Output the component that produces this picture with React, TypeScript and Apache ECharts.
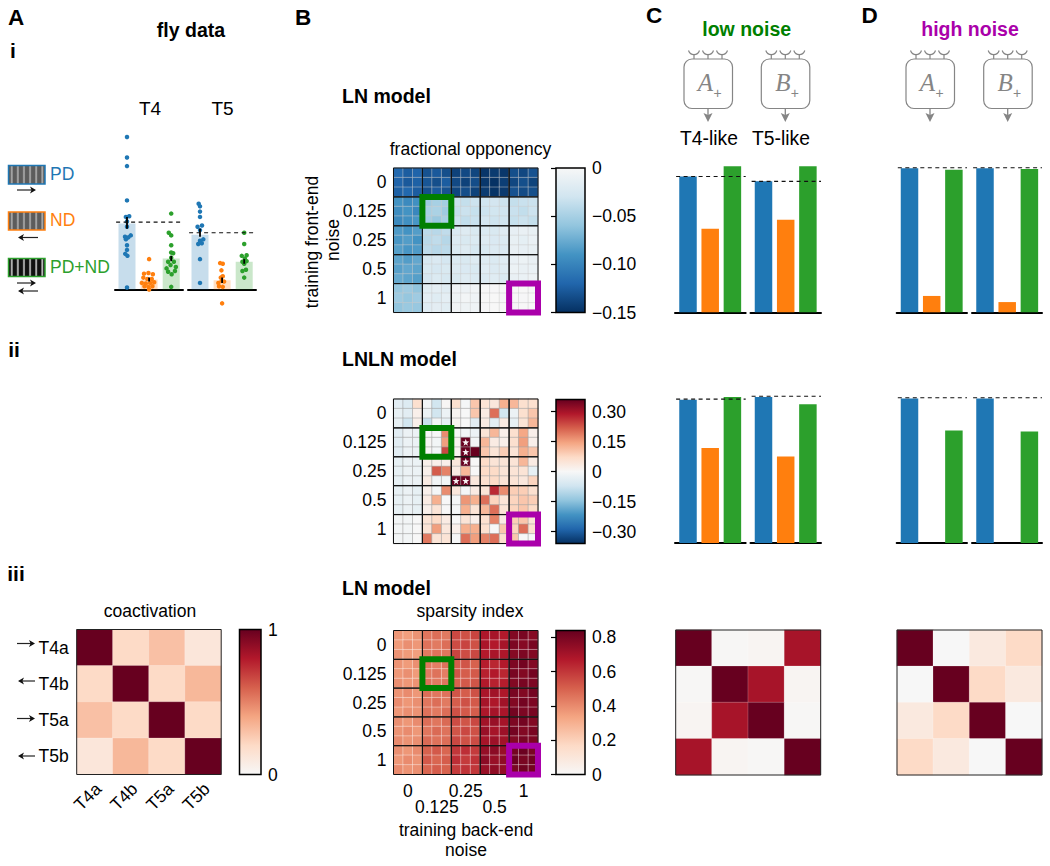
import React, { useEffect, useRef } from "react";
import * as echarts from "echarts";

const FONT = '"Liberation Sans"';
const BLUE = "#1f77b4";
const ORANGE = "#ff7f0e";
const GREEN = "#2ca02c";
const MAG = "#aa00aa";
const DGREEN = "#007f00";
const REDS = ["#f7f7f7", "#fddbc7", "#f4a582", "#d6604d", "#b2182b", "#67001f"];
const BLUES = ["#053061", "#2166ac", "#4393c3", "#92c5de", "#d1e5f0", "#f7f7f7"];
const RDBU = ["#053061", "#2166ac", "#4393c3", "#92c5de", "#d1e5f0", "#f7f7f7", "#fddbc7", "#f4a582", "#d6604d", "#b2182b", "#67001f"];
const LABEL = 17.5;

// ---------- panel A i: fly data ----------
const T4_BARS = [1.0, 0.15, 0.47];
const T5_BARS = [0.83, 0.14, 0.42];
const T4_DASH = 1.02;
const T5_DASH = 0.86;
// [x offset from bar centre, value]
const T4_PD = [[0, 2.31], [0, 2.0], [0, 1.87], [0, 1.35], [0.1, 1.11], [-0.05, 1.1], [0, 1.03], [0, 0.95], [0.17, 0.82], [-0.09, 0.8], [0.06, 0.79], [-0.05, 0.76], [0, 0.67], [0, 0.6], [-0.08, 0.54], [0.02, 0.51], [0, 0.03]];
const T4_ND = [[0, 0.46], [-0.23, 0.24], [-0.03, 0.25], [0.17, 0.23], [-0.26, 0.18], [-0.08, 0.16], [0.12, 0.16], [-0.33, 0.1], [-0.15, 0.09], [0.05, 0.1], [0.23, 0.11], [-0.21, 0.05], [-0.03, 0.04], [0.15, 0.05], [0, 0]];
const T4_BOTH = [[0, 1.15], [-0.11, 0.86], [0, 0.82], [0, 0.67], [0, 0.56], [0.09, 0.55], [0, 0.48], [-0.14, 0.42], [0.12, 0.42], [-0.03, 0.37], [-0.21, 0.32], [0.21, 0.34], [-0.14, 0.27], [0.02, 0.23], [0.17, 0.28], [0, 0.04]];
const T5_PD = [[-0.06, 1.3], [0, 1.26], [0, 1.18], [0, 1.1], [0.09, 0.97], [-0.11, 0.95], [0, 0.9], [0.15, 0.76], [0, 0.74], [-0.08, 0.69], [0.08, 0.7], [0, 0.46], [0, 0.1]];
const T5_ND = [[-0.09, 0.4], [0.03, 0.39], [-0.03, 0.29], [-0.06, 0.18], [0.03, 0.2], [-0.17, 0.1], [-0.02, 0.13], [0.09, 0.12], [-0.14, 0.05], [0.03, 0.04], [0, -0.21]];
const T5_BOTH = [[0, 0.86], [0, 0.69], [-0.11, 0.51], [0.11, 0.52], [0.03, 0.47], [-0.08, 0.42], [0.11, 0.43], [0, 0.39], [0.08, 0.3], [-0.08, 0.28], [0, 0.18]];
// [bar, low, high]
const T4_ERR = [[0, 0.92, 1.1], [1, 0.12, 0.18], [2, 0.43, 0.51]];
const T5_ERR = [[0, 0.8, 0.92], [1, 0.1, 0.18], [2, 0.39, 0.46]];

// ---------- panels C, D: model bars ----------
const LOW_ROW1_A = [0.93, 0.573, 1.0];
const LOW_ROW1_B = [0.897, 0.634, 1.0];
const HIGH_ROW1_A = [0.986, 0.112, 0.977];
const HIGH_ROW1_B = [0.986, 0.07, 0.981];
const LOW_ROW2_A = [0.981, 0.65, 1.0];
const LOW_ROW2_B = [1.0, 0.593, 0.95];
const HIGH_ROW2_A = [0.99, 0, 0.77];
const HIGH_ROW2_B = [0.99, 0, 0.764];

// ---------- heat maps ----------
const NOISE_TICKS = ["", "0", "", "", "0.125", "", "", "0.25", "", "", "0.5", "", "", "1", ""];
const CELLS = ["T4a", "T4b", "T5a", "T5b"];

const FRACTIONAL = [
  [-.118, -.125, -.121, -.131, -.127, -.133, -.14, -.136, -.138, -.147, -.144, -.146, -.133, -.137, -.131],
  [-.121, -.127, -.123, -.129, -.133, -.125, -.136, -.14, -.134, -.146, -.149, -.142, -.137, -.133, -.139],
  [-.123, -.119, -.125, -.133, -.127, -.131, -.138, -.134, -.14, -.144, -.148, -.145, -.131, -.135, -.133],
  [-.09, -.096, -.092, -.054, -.05, -.052, -.034, -.036, -.032, -.03, -.028, -.032, -.036, -.034, -.033],
  [-.094, -.09, -.098, -.05, -.048, -.054, -.036, -.033, -.035, -.032, -.029, -.03, -.034, -.037, -.032],
  [-.096, -.092, -.088, -.052, -.056, -.05, -.032, -.037, -.034, -.028, -.031, -.03, -.035, -.033, -.036],
  [-.086, -.09, -.084, -.04, -.042, -.038, -.023, -.02, -.024, -.022, -.024, -.02, -.013, -.011, -.012],
  [-.088, -.084, -.09, -.041, -.038, -.043, -.021, -.024, -.022, -.02, -.023, -.022, -.012, -.014, -.01],
  [-.083, -.088, -.086, -.039, -.042, -.04, -.022, -.02, -.025, -.024, -.021, -.023, -.011, -.013, -.012],
  [-.08, -.084, -.078, -.025, -.023, -.027, -.022, -.024, -.02, -.02, -.022, -.019, -.01, -.009, -.011],
  [-.082, -.078, -.08, -.024, -.026, -.024, -.021, -.023, -.024, -.018, -.021, -.02, -.009, -.011, -.01],
  [-.077, -.08, -.083, -.026, -.022, -.025, -.024, -.02, -.022, -.021, -.019, -.022, -.011, -.01, -.008],
  [-.058, -.055, -.06, -.017, -.015, -.018, -.006, -.008, -.005, 0, -.001, 0, 0, 0, -.001],
  [-.055, -.058, -.054, -.016, -.019, -.015, -.007, -.004, -.006, 0, 0, -.001, 0, -.001, 0],
  [-.06, -.056, -.057, -.018, -.016, -.017, -.005, -.007, -.006, -.001, 0, 0, -.001, 0, 0],
];

const LNLN = [
  [-.04, -.05, .06, -.01, -.07, .005, .06, -.005, .1, .05, .04, .13, .12, .06, .06],
  [-.03, -.04, .02, -.02, -.07, -.02, .01, 0, .1, .03, .2, -.07, -.02, .06, .1],
  [-.03, -.07, .02, -.08, -.01, -.03, .01, 0, -.04, .03, -.04, .03, -.03, .05, .12],
  [-.04, -.02, -.02, 0, 0, .17, 0, -.01, -.02, .05, .12, .02, .06, .14, .02],
  [-.04, -.02, -.02, .005, -.01, .15, .01, .36, -.01, .12, .03, .02, .06, .15, .02],
  [-.04, -.02, -.02, .005, -.01, .24, .01, .36, .36, .1, .05, .09, .05, .13, .1],
  [-.03, -.02, -.02, .02, .02, .02, .04, .36, 0, .07, .05, .05, .05, .12, .03],
  [-.03, -.02, -.02, .02, .22, .18, .03, .12, 0, .07, .07, .05, .05, .05, -.03],
  [-.03, -.02, -.02, .03, -.01, -.01, .36, .36, .04, .06, .07, .05, .05, .04, .08],
  [-.03, -.02, -.03, .02, -.005, .17, .04, -.005, .03, .05, .27, .17, .09, .09, .06],
  [-.03, -.02, -.03, .03, .13, 0, -.005, .16, .13, .2, .08, .05, .08, .1, .09],
  [-.03, -.02, -.03, .02, .05, 0, -.005, .13, .05, .12, .2, .05, .08, .1, .07],
  [-.01, -.01, 0, .05, .07, .03, 0, .05, .02, .06, .18, .03, .09, .1, .05],
  [-.01, -.01, 0, .05, .15, .04, .02, .13, .13, .06, 0, .1, .08, .2, .06],
  [-.01, -.01, 0, .19, .05, .05, -.003, .2, .15, .18, .2, .06, .1, 0, 0],
];
// [column, row] of the starred cells
const LNLN_STARS = [[7, 4], [7, 5], [7, 6], [6, 8], [7, 8]];

const SPARSITY = [
  [.37, .35, .38, .45, .47, .44, .56, .54, .57, .68, .7, .67, .78, .8, .77],
  [.36, .39, .37, .46, .44, .47, .55, .57, .54, .69, .67, .7, .79, .77, .8],
  [.38, .36, .35, .44, .46, .45, .57, .55, .56, .67, .69, .68, .77, .79, .78],
  [.38, .36, .39, .45, .43, .46, .51, .53, .5, .66, .64, .67, .79, .81, .78],
  [.37, .39, .36, .44, .46, .43, .53, .51, .52, .65, .67, .64, .8, .78, .81],
  [.39, .37, .38, .46, .44, .45, .5, .52, .53, .67, .65, .66, .78, .8, .79],
  [.38, .4, .37, .47, .45, .46, .53, .51, .54, .69, .71, .68, .8, .78, .81],
  [.4, .37, .39, .45, .47, .44, .51, .54, .52, .7, .68, .71, .78, .81, .79],
  [.37, .39, .38, .46, .44, .47, .54, .52, .51, .68, .7, .69, .81, .79, .8],
  [.39, .37, .4, .47, .45, .48, .55, .53, .56, .71, .73, .7, .79, .81, .78],
  [.38, .4, .37, .45, .48, .46, .53, .56, .54, .73, .7, .72, .81, .78, .8],
  [.4, .38, .39, .48, .46, .47, .56, .54, .55, .7, .72, .71, .78, .8, .79],
  [.39, .37, .4, .5, .52, .49, .6, .62, .59, .74, .76, .73, .81, .83, .8],
  [.37, .4, .38, .52, .49, .51, .62, .59, .61, .76, .73, .75, .83, .8, .82],
  [.4, .38, .39, .49, .51, .5, .59, .61, .6, .73, .75, .74, .8, .82, .81],
];

const COACT = [
  [1, .2, .3, .12],
  [.2, 1, .2, .33],
  [.3, .2, 1, .2],
  [.12, .33, .2, 1],
];
const LOW_NOISE_COACT = [
  [1, .01, .02, .83],
  [.01, 1, .83, .02],
  [.02, .83, 1, .01],
  [.83, .02, .01, 1],
];
const HIGH_NOISE_COACT = [
  [1, 0, .1, .2],
  [0, 1, .2, .1],
  [.1, .2, 1, 0],
  [.2, .1, 0, 1],
];

const FRAC_TICKS = [0, -0.05, -0.1, -0.15];
const LNLN_TICKS = [0.3, 0.15, 0, -0.15, -0.3];
const SPARSE_TICKS = [0, 0.2, 0.4, 0.6, 0.8];
const COACT_TICKS = [0, 1];

const BLOCKS = [0, 1, 2, 3, 4].flatMap((r) => [0, 1, 2, 3, 4].map((c) => [c, r]));

function buildOption() {
  const grid: any[] = [], xAxis: any[] = [], yAxis: any[] = [], series: any[] = [], visualMap: any[] = [];
  const addGrid = (g: any, x: any, y: any) => {
    const i = grid.length;
    grid.push(g);
    xAxis.push({ ...x, gridIndex: i });
    yAxis.push({ ...y, gridIndex: i });
    return i;
  };
  const hiddenValue = (min: number, max: number) => ({
    type: "value", min, max, show: false, splitLine: { show: false },
  });

  // bars with a thick zero line
  const barPanel = (left: number, right: number, c0: number, base: number, unit: number, top: number, bottom: number, vals: number[], opts: any) => {
    const sp = opts.spacing;
    const xmin = (left - c0) / sp, xmax = (right - c0) / sp;
    const i = addGrid(
      { left, width: right - left, top: base - top * unit, height: (top - bottom) * unit },
      {
        type: "value", min: xmin, max: xmax,
        axisLine: { show: true, onZero: true, lineStyle: { color: "#000", width: 2 } },
        axisTick: { show: false }, axisLabel: { show: false }, splitLine: { show: false },
      },
      hiddenValue(bottom, top)
    );
    const cols = [BLUE, ORANGE, GREEN];
    series.push({
      type: "bar", xAxisIndex: i, yAxisIndex: i, barWidth: opts.barWidth, silent: true,
      data: vals.map((v, k) => ({ value: [k, v], itemStyle: { color: cols[k], opacity: opts.opacity ?? 1 } })),
      z: 2,
    });
    if (opts.dots) {
      opts.dots.forEach((d: number[][], k: number) => {
        series.push({
          type: "scatter", xAxisIndex: i, yAxisIndex: i, symbolSize: 4.5, silent: true, z: 3,
          itemStyle: { color: cols[k], opacity: 1 },
          data: d.map(([o, v]) => [k + o, v]),
        });
      });
    }
    if (opts.err) {
      series.push({
        type: "custom", xAxisIndex: i, yAxisIndex: i, silent: true, z: 4, data: opts.err,
        renderItem: (_: any, api: any) => {
          const a = api.coord([api.value(0), api.value(1)]);
          const b = api.coord([api.value(0), api.value(2)]);
          return { type: "line", shape: { x1: a[0], y1: a[1], x2: b[0], y2: b[1] }, style: { stroke: "#000", lineWidth: 1.8 } };
        },
      });
    }
    if (opts.dash != null) {
      series.push({
        type: "line", xAxisIndex: i, yAxisIndex: i, silent: true, z: 5, symbol: "none", clip: false,
        lineStyle: { color: "#111", width: 1.2, type: [4, 3.5] },
        data: [[xmin + (opts.dashInset ?? 0.05), opts.dash], [xmax, opts.dash]],
      });
    }
  };

  const A_UNIT = 66, A_BASE = 289.5;
  const aOpts = { spacing: 22.1, barWidth: 17, opacity: 0.25 };
  barPanel(115, 183, 127, A_BASE, A_UNIT, 2.5, -0.3, T4_BARS, { ...aOpts, dots: [T4_PD, T4_ND, T4_BOTH], err: T4_ERR, dash: T4_DASH });
  barPanel(188, 256, 200, A_BASE, A_UNIT, 2.5, -0.3, T5_BARS, { ...aOpts, dots: [T5_PD, T5_ND, T5_BOTH], err: T5_ERR, dash: T5_DASH });

  const mOpts = { spacing: 22.2, barWidth: 17.5 };
  const mU = 146;
  const mT = 1.03, mB = -0.02;
  barPanel(675, 745.7, 688, 312.3, mU, mT, mB, LOW_ROW1_A, { ...mOpts, dash: 0.93 });
  barPanel(750.5, 821, 763.5, 312.3, mU, mT, mB, LOW_ROW1_B, { ...mOpts, dash: 0.897 });
  barPanel(896.7, 967, 909.5, 312.3, mU, mT, mB, HIGH_ROW1_A, { ...mOpts, dash: 0.99 });
  barPanel(972, 1042, 985, 312.3, mU, mT, mB, HIGH_ROW1_B, { ...mOpts, dash: 0.99 });
  barPanel(675, 745.7, 688, 543, mU, mT, mB, LOW_ROW2_A, { ...mOpts, dash: 0.985 });
  barPanel(750.5, 821, 763.5, 543, mU, mT, mB, LOW_ROW2_B, { ...mOpts, dash: 1.005 });
  barPanel(896.7, 967, 909.5, 543, mU, mT, mB, HIGH_ROW2_A, { ...mOpts, dash: 0.995 });
  barPanel(972, 1042, 985, 543, mU, mT, mB, HIGH_ROW2_B, { ...mOpts, dash: 0.995 });

  // heat maps
  const frameSeries = (i: number, data: number[][], n: number, stroke: string, lineWidth: number, z: number) => {
    series.push({
      type: "custom", xAxisIndex: i, yAxisIndex: i, silent: true, z, data, clip: false,
      renderItem: (_: any, api: any) => {
        const c0 = api.coord([api.value(0) * n, api.value(1) * n]);
        const c1 = api.coord([api.value(0) * n + n - 1, api.value(1) * n + n - 1]);
        const s = api.size([1, 1]);
        const w = s[0] * n, h = s[1] * n;
        const cx = (c0[0] + c1[0]) / 2, cy = (c0[1] + c1[1]) / 2;
        return {
          type: "rect", shape: { x: cx - w / 2, y: cy - h / 2, width: w, height: h },
          style: { fill: "none", stroke, lineWidth },
        };
      },
    });
  };

  const heat = (box: number[], matrix: number[][], min: number, max: number, colors: string[], x: any, y: any, border: any) => {
    const i = addGrid(
      { left: box[0], top: box[1], width: box[2], height: box[3] },
      { type: "category", axisLine: { show: false }, axisTick: { show: false }, splitLine: { show: false }, ...x },
      { type: "category", inverse: true, axisLine: { show: false }, axisTick: { show: false }, splitLine: { show: false }, ...y }
    );
    series.push({
      type: "heatmap", xAxisIndex: i, yAxisIndex: i, silent: true, z: 2,
      itemStyle: border,
      data: matrix.flatMap((row, r) => row.map((v, c) => [c, r, v])),
    });
    visualMap.push({ type: "continuous", show: false, min, max, dimension: 2, seriesIndex: series.length - 1, inRange: { color: colors } });
    return i;
  };

  const colorbar = (box: number[], min: number, max: number, colors: string[], ticks: number[], fmt: (v: number) => string, tickLen: number) => {
    const i = addGrid(
      { left: box[0], top: box[1], width: box[2], height: box[3] },
      { type: "value", min: 0, max: 1, show: false, splitLine: { show: false } },
      {
        type: "value", position: "right", min, max, splitLine: { show: false },
        axisLine: { show: false },
        axisTick: { show: tickLen > 0, inside: true, length: tickLen, customValues: ticks, lineStyle: { color: "#000", width: 1.2 } },
        axisLabel: { show: true, customValues: ticks, formatter: fmt, fontFamily: FONT, fontSize: LABEL, color: "#000", margin: 7 },
      }
    );
    series.push({
      type: "custom", xAxisIndex: i, yAxisIndex: i, silent: true, z: 2, data: [[0, min, max]],
      renderItem: (params: any) => {
        const r = params.coordSys;
        return {
          type: "rect", shape: { x: r.x, y: r.y, width: r.width, height: r.height },
          style: {
            stroke: "#000", lineWidth: 1.5,
            fill: new echarts.graphic.LinearGradient(0, 1, 0, 0, colors.map((color, k) => ({ offset: k / (colors.length - 1), color }))),
          },
        };
      },
    });
  };

  const noCell = { borderColor: "rgba(205,205,205,0.6)", borderWidth: 0.8 };
  const yNoise = {
    data: NOISE_TICKS,
    axisLabel: { interval: 0, fontFamily: FONT, fontSize: LABEL, color: "#000", margin: 7, padding: [4, 0, 0, 0] },
  };
  const noLabels = { axisLabel: { show: false } };
  const blockFrames = (i: number) => {
    frameSeries(i, BLOCKS, 3, "#111", 1, 5);
    frameSeries(i, [[1, 1]], 3, DGREEN, 6, 6);
    frameSeries(i, [[4, 4]], 3, MAG, 6, 6);
  };

  const fi = heat([393.5, 168, 144.5, 144.5], FRACTIONAL, -0.15, 0, BLUES, { data: NOISE_TICKS, ...noLabels }, yNoise, noCell);
  blockFrames(fi);
  colorbar([556, 168, 29, 144.5], -0.15, 0, BLUES, FRAC_TICKS, (v) => (v === 0 ? "0" : "\u2212" + Math.abs(v).toFixed(2)), 5);

  const li = heat([393.5, 399, 144.5, 144.5], LNLN, -0.36, 0.36, RDBU, { data: NOISE_TICKS, ...noLabels }, yNoise, { borderColor: "rgba(165,165,165,0.75)", borderWidth: 0.8 });
  series.push({
    type: "scatter", xAxisIndex: li, yAxisIndex: li, silent: true, z: 4, symbol: "path://M50 0L62 35L100 38L70 60L81 98L50 76L19 98L30 60L0 38L38 35Z",
    symbolSize: 7, itemStyle: { color: "#fff", opacity: 0.95 }, data: LNLN_STARS,
  });
  blockFrames(li);
  colorbar([556, 399.5, 29, 144], -0.36, 0.36, RDBU, LNLN_TICKS, (v) => (v === 0 ? "0" : (v < 0 ? "\u2212" : "") + Math.abs(v).toFixed(2)), 5);

  const si = heat(
    [393.5, 630.5, 144.5, 144],
    SPARSITY, 0, 0.84, REDS,
    {
      data: NOISE_TICKS,
      axisLabel: {
        interval: 0, fontFamily: FONT, fontSize: LABEL, color: "#000", margin: 8, lineHeight: 16, align: "center",
        formatter: (v: string, idx: number) => (v === "" ? "" : Math.floor(idx / 3) % 2 === 1 ? "\n" + v : v),
      },
    },
    yNoise,
    { borderColor: "rgba(255,255,255,0.42)", borderWidth: 0.9 }
  );
  blockFrames(si);
  colorbar([556, 630.5, 29, 144], 0, 0.84, REDS, SPARSE_TICKS, (v) => (v === 0 ? "0" : v.toFixed(1)), 5);

  const cellBorder = { borderColor: "rgba(255,255,255,0.35)", borderWidth: 0.6 };
  const ci = heat(
    [76.7, 629.5, 144.5, 145], COACT, 0, 1, REDS,
    { data: CELLS, axisLabel: { interval: 0, rotate: 45, align: "center", verticalAlign: "middle", padding: [0, 20, 0, 0], fontFamily: FONT, fontSize: LABEL, color: "#000", margin: 15 } },
    { data: CELLS, axisLabel: { interval: 0, fontFamily: FONT, fontSize: LABEL, color: "#000", margin: 8 } },
    cellBorder
  );
  frameSeries(ci, [[0, 0]], 4, "#222", 1, 5);
  colorbar([239.5, 629.5, 21.5, 145], 0, 1, REDS, COACT_TICKS, (v) => String(v), 0);

  const di = heat([675.7, 630, 145, 145], LOW_NOISE_COACT, 0, 1, REDS, { data: CELLS, ...noLabels }, { data: CELLS, ...noLabels }, cellBorder);
  frameSeries(di, [[0, 0]], 4, "#222", 1, 5);
  const ei = heat([897, 630, 145, 145], HIGH_NOISE_COACT, 0, 1, REDS, { data: CELLS, ...noLabels }, { data: CELLS, ...noLabels }, cellBorder);
  frameSeries(ei, [[0, 0]], 4, "#222", 1, 5);

  return { animation: false, grid, xAxis, yAxis, series, visualMap, graphic: { elements: decorations() } };
}

// ---------- labels and schematics ----------
function txt(text: string, x: number, y: number, size: number, o: any = {}) {
  return {
    type: "text", x: o.rx ?? 0, y: o.ry ?? 0, rotation: o.rotation ?? 0, z: 20, silent: true,
    originX: 0, originY: 0,
    style: {
      text, x: o.rotation ? 0 : x, y: o.rotation ? 0 : y, fill: o.fill ?? "#000",
      font: `${o.style ?? ""} ${o.bold ? "bold" : ""} ${size}px ${o.family ?? FONT}`.trim(),
      align: o.align ?? "center", verticalAlign: "middle",
    },
  };
}
function hLine(x1: number, y1: number, x2: number, y2: number, stroke: string, w: number) {
  return { type: "line", z: 20, silent: true, shape: { x1, y1, x2, y2 }, style: { stroke, lineWidth: w } };
}
function arrow(x1: number, x2: number, y: number) {
  const d = x2 > x1 ? 1 : -1;
  return [
    hLine(x1, y, x2 - d * 2, y, "#222", 1.2),
    {
      type: "polygon", z: 20, silent: true,
      shape: { points: [[x2, y], [x2 - d * 6, y - 3.4], [x2 - d * 4.4, y], [x2 - d * 6, y + 3.4]] },
      style: { fill: "#111" },
    },
  ];
}
function stimulus(y: number, h: number, stroke: string, dark: string, light: string) {
  const stops: any[] = [];
  const n = 6;
  for (let k = 0; k < n; k++) {
    stops.push({ offset: k / n, color: dark });
    stops.push({ offset: (k + 0.28) / n, color: dark });
    stops.push({ offset: (k + 0.55) / n, color: light });
    stops.push({ offset: (k + 0.8) / n, color: dark });
  }
  stops.push({ offset: 1, color: dark });
  return {
    type: "rect", z: 20, silent: true, shape: { x: 8.5, y, width: 36.5, height: h },
    style: { stroke, lineWidth: 1.5, fill: new echarts.graphic.LinearGradient(0, 0, 1, 0, stops) },
  };
}
function neuron(L: number, letter: string) {
  const G = "#858585";
  const els: any[] = [
    { type: "rect", z: 20, silent: true, shape: { x: L, y: 59, width: 48.5, height: 49.5, r: 8 }, style: { fill: "none", stroke: G, lineWidth: 1.2 } },
  ];
  [10, 24, 38].forEach((o) => {
    const x = L + o;
    els.push({ type: "bezierCurve", z: 20, silent: true, shape: { x1: x - 5.5, y1: 50.5, cpx1: x - 3.5, cpy1: 56, cpx2: x + 3.5, cpy2: 56, x2: x + 5.5, y2: 50.5 }, style: { fill: "none", stroke: G, lineWidth: 1.2 } });
    els.push(hLine(x, 54.5, x, 59, G, 1.2));
  });
  const a = L + 24;
  els.push(hLine(a, 108.5, a, 116, G, 1.3));
  els.push({ type: "polygon", z: 20, silent: true, shape: { points: [[a - 4.5, 113], [a, 115], [a + 4.5, 113], [a, 122]] }, style: { fill: G } });
  els.push(txt(letter, L + 21.5, 82, 25, { family: '"Liberation Serif"', style: "italic", fill: G }));
  els.push(txt("+", L + 33.5, 93, 14, { fill: G }));
  return els;
}
function decorations() {
  const out: any[] = [];
  const bold = { bold: true };
  const H = 19.5;
  out.push(txt("A", 16, 17, 22.5, bold), txt("B", 303, 17, 22.5, bold), txt("C", 654, 15, 22.5, bold), txt("D", 869.5, 15, 22.5, bold));
  out.push(txt("i", 13, 50, 21, bold), txt("ii", 14, 349, 21, bold), txt("iii", 16, 573, 21, bold));
  out.push(txt("fly data", 191, 30, H, bold));
  out.push(txt("T4", 150, 108, 19), txt("T5", 222.5, 108, 19));
  out.push(stimulus(165.5, 18.5, BLUE, "#5c5c5c", "#b5b5b5"), stimulus(212, 18, ORANGE, "#5c5c5c", "#b5b5b5"), stimulus(258.5, 18, GREEN, "#111", "#d8d8d8"));
  out.push(txt("PD", 50, 174, LABEL, { align: "left", fill: BLUE }), txt("ND", 50, 220, LABEL, { align: "left", fill: ORANGE }), txt("PD+ND", 50, 266.5, LABEL, { align: "left", fill: GREEN }));
  out.push(...arrow(17, 36, 190), ...arrow(38, 18, 237.5), ...arrow(17, 36, 283), ...arrow(38, 18, 291));
  out.push(txt("LN model", 342, 96, H, { bold: true, align: "left" }), txt("LNLN model", 342, 359, H, { bold: true, align: "left" }), txt("LN model", 342, 588, H, { bold: true, align: "left" }));
  out.push(txt("fractional opponency", 470.5, 149, LABEL), txt("sparsity index", 470, 611, LABEL), txt("coactivation", 150, 611, LABEL));
  out.push(txt("training front-end", 0, 0, LABEL, { rotation: Math.PI / 2, rx: 312, ry: 242 }), txt("noise", 0, 0, LABEL, { rotation: Math.PI / 2, rx: 333, ry: 240 }));
  out.push(txt("training back-end", 466, 830, LABEL), txt("noise", 466, 850, LABEL));
  out.push(txt("low noise", 746.7, 29, H, { bold: true, fill: DGREEN }), txt("high noise", 970, 29, H, { bold: true, fill: MAG }));
  out.push(txt("T4-like", 709, 138, 19.3), txt("T5-like", 781, 138, 19.3));
  out.push(...neuron(684, "A"), ...neuron(761.3, "B"), ...neuron(906, "A"), ...neuron(983.7, "B"));
  out.push(...arrow(17, 35, 643.5), ...arrow(35, 18, 681), ...arrow(17, 35, 718.5), ...arrow(35, 18, 756));
  return out;
}

export default function App() {
  const ref = useRef<HTMLDivElement>(null);
  useEffect(() => {
    const chart = echarts.init(ref.current!, null, { renderer: "svg", width: 1050, height: 866 });
    chart.setOption(buildOption());
    return () => chart.dispose();
  }, []);
  return <div ref={ref} style={{ position: "fixed", left: 0, top: 0, width: 1050, height: 866, background: "#fff" }} />;
}
